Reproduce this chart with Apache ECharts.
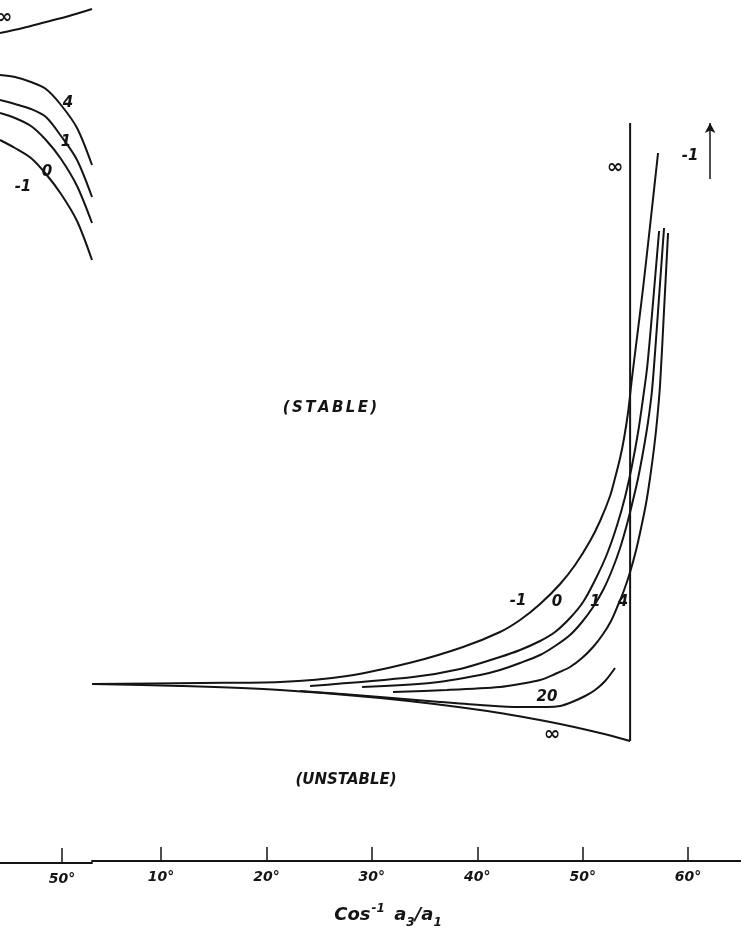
<!DOCTYPE html>
<html>
<head>
<meta charset="utf-8">
<script src="https://cdn.jsdelivr.net/npm/echarts@6/dist/echarts.min.js"></script>
<style>
  html, body { margin: 0; padding: 0; background: #fff; }
  #chart { width: 741px; height: 938px; }
</style>
</head>
<body>
<div id="chart"></div>
<script>
// Abscissa: Cos^-1 a3/a1 in degrees. The ordinate carries no printed scale,
// values below are in arbitrary units (0 = common asymptote on the left).
const tickDegreesRight = [10, 20, 30, 40, 50, 60];
const tickDegreesLeft = [50];

// Left-hand panel (only its right edge is shown)
const leftInf = [[44.12, 6.52], [46.30, 6.57], [48.48, 6.63], [50.67, 6.69], [52.85, 6.76]];
const left4   = [[44.12, 6.10], [45.54, 6.08], [47.06, 6.03], [48.48, 5.96], [49.91, 5.80], [51.43, 5.57], [52.85, 5.20]];
const left1   = [[44.12, 5.85], [45.54, 5.81], [47.06, 5.76], [48.48, 5.68], [49.91, 5.49], [51.43, 5.25], [52.85, 4.88]];
const left0   = [[44.12, 5.72], [45.54, 5.67], [47.06, 5.59], [48.48, 5.45], [49.91, 5.26], [51.43, 4.99], [52.85, 4.62]];
const leftM1  = [[44.12, 5.45], [45.54, 5.37], [47.06, 5.27], [48.48, 5.11], [49.91, 4.91], [51.43, 4.64], [52.85, 4.25]];

// Right-hand panel: stability boundaries for each parameter value
const rightM1 = [[3.45, 0.01], [13.70, 0.02], [21.29, 0.03], [27.65, 0.09], [33.91, 0.23], [38.65, 0.38],
  [42.16, 0.53], [44.06, 0.65], [45.96, 0.81], [47.86, 1.01], [49.28, 1.20], [50.70, 1.44],
  [51.65, 1.64], [52.60, 1.89], [53.07, 2.07], [53.55, 2.27], [53.93, 2.47], [54.31, 2.73],
  [54.69, 3.08], [55.16, 3.48], [55.73, 3.97], [56.39, 4.59], [57.15, 5.32]];
const right0 = [[24.14, -0.01], [33.91, 0.08], [38.37, 0.16], [42.16, 0.28], [44.06, 0.35], [45.96, 0.44],
  [47.38, 0.53], [48.80, 0.67], [50.04, 0.83], [51.18, 1.05], [52.31, 1.31], [53.27, 1.60],
  [54.02, 1.88], [54.69, 2.20], [55.26, 2.53], [55.73, 2.87], [56.11, 3.17], [56.49, 3.60],
  [56.87, 4.07], [57.25, 4.54]];
const right1 = [[29.07, -0.02], [35.52, 0.02], [40.27, 0.10], [42.16, 0.15], [44.06, 0.22], [45.96, 0.30],
  [47.38, 0.39], [48.80, 0.50], [49.94, 0.63], [50.99, 0.78], [51.94, 0.95], [52.79, 1.15],
  [53.55, 1.37], [54.21, 1.61], [54.78, 1.85], [55.26, 2.07], [55.73, 2.33], [56.20, 2.63],
  [56.58, 2.95], [56.96, 3.46], [57.34, 4.02], [57.72, 4.57]];
const right4 = [[32.01, -0.07], [37.13, -0.05], [42.16, -0.02], [44.06, 0.01], [45.96, 0.05], [47.38, 0.11],
  [48.80, 0.18], [49.94, 0.27], [50.99, 0.38], [51.94, 0.51], [52.69, 0.64], [53.36, 0.80],
  [53.93, 0.95], [54.50, 1.13], [55.07, 1.35], [55.54, 1.57], [56.02, 1.82], [56.39, 2.07],
  [56.77, 2.37], [57.06, 2.65], [57.34, 3.00], [57.72, 3.75], [58.10, 4.52]];
const right20 = [[23.19, -0.06], [30.78, -0.12], [36.47, -0.17], [40.27, -0.20], [44.06, -0.22],
  [46.62, -0.22], [47.86, -0.21], [48.99, -0.17], [50.23, -0.11], [51.18, -0.05], [52.13, 0.04], [53.07, 0.17]];
const rightInf = [[3.45, 0.01], [11.80, -0.01], [21.29, -0.05], [30.78, -0.13], [40.27, -0.25],
  [46.91, -0.37], [51.65, -0.48], [54.50, -0.56]];
const boundaryInf = [[54.50, -0.56], [54.50, 5.62]];
const arrowM1 = [[62.09, 5.06], [62.09, 5.62]];

// Curve and region annotations: [x, y, text]
const leftNotes = [[44.50, 6.67, '∞'], [50.57, 5.82, '4'], [50.38, 5.43, '1'], [48.58, 5.13, '0'], [46.30, 4.98, '-1']];
const rightNotes = [[53.07, 5.17, '∞'], [60.19, 5.29, '-1'], [43.87, 0.84, '-1'], [47.57, 0.83, '0'],
  [51.18, 0.83, '1'], [53.83, 0.83, '4'], [46.62, -0.12, '20'], [47.10, -0.50, '∞']];
const regionNotes = [[26.03, 2.77, '(STABLE)'], [27.55, -0.95, '(UNSTABLE)']];

const INK = '#141414';
const FONT = 'DejaVu Sans';

function curve(data, grid) {
  return {
    type: 'line', data: data, xAxisIndex: grid, yAxisIndex: grid,
    smooth: 0.3, symbol: 'none', silent: true,
    lineStyle: { color: INK, width: 2 }
  };
}

function notes(list, grid, size) {
  return {
    type: 'scatter', xAxisIndex: grid, yAxisIndex: grid, silent: true,
    symbolSize: 1, itemStyle: { color: 'rgba(0,0,0,0)', opacity: 1 },
    data: list.map(n => ({
      value: [n[0], n[1]], name: n[2],
      // infinity glyphs are set upright and a little larger than the numerals
      label: n[2] === '∞' ? { fontSize: 20, fontStyle: 'normal' } : undefined
    })),
    label: {
      show: true, position: 'inside', formatter: '{b}',
      color: INK, fontFamily: FONT, fontStyle: 'italic', fontWeight: 'bold', fontSize: size,
      textBorderWidth: 0
    }
  };
}

// the "(STABLE)" caption is lettered with wider spacing between characters
const regionSeries = notes(regionNotes, 1, 15);
regionSeries.label.formatter = p => p.name === '(STABLE)'
  ? p.name.split('').map(ch => '{sp|' + ch + '}').join('')
  : p.name;
regionSeries.label.rich = {
  sp: { fontFamily: FONT, fontStyle: 'italic', fontWeight: 'bold', fontSize: 15, color: INK, padding: [0, 1.2, 0, 1.2] }
};

const axisText = { color: INK, fontFamily: FONT, fontStyle: 'italic', fontWeight: 'bold', fontSize: 14, margin: 9 };

const option = {
  backgroundColor: '#fff',
  animation: false,
  title: {
    text: '{a|Cos}{s|-1}{a| a}{b|3}{a|/a}{b|1}',
    left: 383, top: 895, textAlign: 'center',
    textStyle: {
      rich: {
        a: { fontFamily: FONT, fontStyle: 'italic', fontSize: 18, color: INK, lineHeight: 30, verticalAlign: 'middle' },
        s: { fontFamily: FONT, fontStyle: 'italic', fontSize: 12, color: INK, lineHeight: 30, verticalAlign: 'top', padding: [3, 3, 0, 1] },
        b: { fontFamily: FONT, fontStyle: 'italic', fontSize: 12, color: INK, lineHeight: 30, verticalAlign: 'bottom', padding: [0, 0, 1, 0] }
      }
    }
  },
  grid: [
    { left: 0, width: 92, top: 0, bottom: 75 },
    { left: 92, right: 0, top: 0, bottom: 77 }
  ],
  xAxis: [
    {
      type: 'value', gridIndex: 0, min: 44.12, max: 52.85,
      axisLine: { onZero: false, lineStyle: { color: INK, width: 2 } },
      axisTick: { inside: true, length: 15, customValues: tickDegreesLeft, lineStyle: { color: INK, width: 1.5 } },
      axisLabel: Object.assign({ customValues: tickDegreesLeft, formatter: '{value}°' }, axisText),
      splitLine: { show: false }
    },
    {
      type: 'value', gridIndex: 1, min: 3.45, max: 65.02,
      axisLine: { onZero: false, lineStyle: { color: INK, width: 2 } },
      axisTick: { inside: true, length: 14, customValues: tickDegreesRight, lineStyle: { color: INK, width: 1.5 } },
      axisLabel: Object.assign({ customValues: tickDegreesRight, formatter: '{value}°' }, axisText),
      splitLine: { show: false }
    }
  ],
  yAxis: [
    { type: 'value', gridIndex: 0, min: -1.78, max: 6.85, show: false },
    { type: 'value', gridIndex: 1, min: -1.76, max: 6.85, show: false }
  ],
  series: [
    curve(leftInf, 0), curve(left4, 0), curve(left1, 0), curve(left0, 0), curve(leftM1, 0),
    curve(rightM1, 1), curve(right0, 1), curve(right1, 1), curve(right4, 1),
    curve(right20, 1), curve(rightInf, 1),
    Object.assign(curve(boundaryInf, 1), { smooth: false }),
    {
      type: 'line', xAxisIndex: 1, yAxisIndex: 1, data: [], silent: true,
      markLine: {
        silent: true, animation: false,
        symbol: ['none', 'arrow'], symbolSize: [8, 10],
        label: { show: false },
        lineStyle: { color: INK, width: 1.5, type: 'solid' },
        data: [[{ coord: arrowM1[0] }, { coord: arrowM1[1] }]]
      }
    },
    notes(leftNotes, 0, 15),
    notes(rightNotes, 1, 15),
    regionSeries
  ]
};

const chart = echarts.init(document.getElementById('chart'), null, { renderer: 'canvas' });
chart.setOption(option);
</script>
</body>
</html>
